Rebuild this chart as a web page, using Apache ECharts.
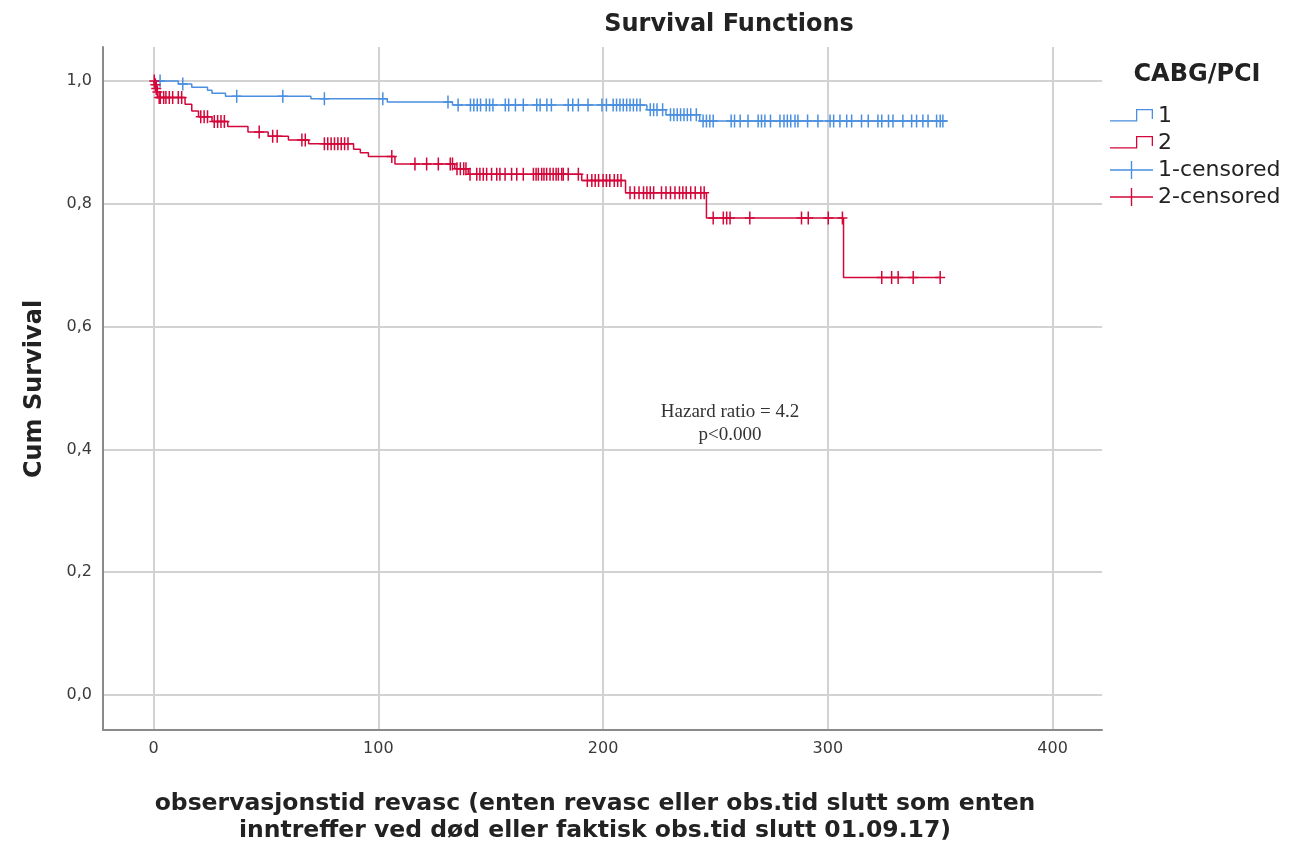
<!DOCTYPE html>
<html><head><meta charset="utf-8">
<script src="https://cdn.jsdelivr.net/npm/echarts@6/dist/echarts.min.js"></script>
<style>html,body{margin:0;padding:0;background:#fff}#c{width:1301px;height:843px}</style>
</head><body><div id="c"></div>
<script>
// ---- data ----
const xTicks = [0, 100, 200, 300, 400];
const yTicks = [0, 0.2, 0.4, 0.6, 0.8, 1.0];

const blueEventTimes = [11, 17, 24, 26, 32, 70, 104, 133, 219.5, 228, 243];
const blueEventSurv  = [0.995, 0.990, 0.985, 0.980, 0.975, 0.971, 0.966, 0.961, 0.953, 0.945, 0.935];
const blueCensorTimes = [2.9, 13, 37, 57.5, 76, 102, 131, 135.5, 141, 142.5, 144, 145.5, 148, 149.5, 151,
  156.5, 158, 161, 164.5, 170.5, 172, 175, 177, 184.5, 186.5, 189, 193.3, 199.5, 201.5, 204.5, 206,
  207.5, 209, 210.5, 212, 213.5, 215, 216.5, 221, 222.5, 224, 226.5, 230, 231.5, 233, 234.5, 236,
  237.5, 239, 241.5, 244.5, 246, 247.5, 249, 257, 258.5, 261, 264.5, 269, 270.5, 272, 274.5, 278.7,
  280.5, 282, 283.5, 285.4, 286.7, 291, 295.6, 301, 302.6, 305.4, 308.4, 310.6, 315, 318, 322.3,
  324, 327, 329, 333.4, 337.3, 339.5, 342.3, 344.6, 348.4, 350, 351.2];
const blueEndTime = 353;

const redEventTimes = [0.5, 1.0, 1.5, 2.0, 14, 17, 20, 26, 33, 42, 51, 60, 69, 89, 92, 95.6, 107.4,
  134, 140, 190.5, 210, 246, 307];
const redEventSurv  = [0.994, 0.988, 0.982, 0.973, 0.962, 0.951, 0.942, 0.934, 0.926, 0.917, 0.910,
  0.904, 0.898, 0.889, 0.883, 0.877, 0.865, 0.857, 0.848, 0.838, 0.818, 0.777, 0.680];
const redCensorTimes = [0.3, 0.8, 1.2, 1.7, 2.5, 3, 4.5, 5.5, 7, 8.5, 11, 12.5, 21, 22.5, 24, 27, 28.5,
  30, 31.5, 47, 53, 55, 66, 67.5, 76, 77.5, 79, 80.5, 82, 83.5, 85, 86.5, 106, 116.3, 121.5, 126.7,
  132, 133, 135, 136.5, 138, 139, 140.8, 143.8, 145.2, 146.7, 148.2, 150.4, 152.7, 154.1, 156.4,
  159.3, 161.6, 164.5, 169, 170.2, 171.2, 172.7, 173.7, 174.9, 176.4, 177.8, 179.1, 180.1, 181.6,
  182.3, 184.5, 189, 193, 195, 196.5, 198, 200, 201.5, 203, 205, 206.5, 208, 212, 214, 216, 218,
  219.5, 221, 222.5, 226, 228, 230, 232, 234, 235.5, 237, 239, 241, 243.5, 245, 249, 253.5, 255,
  256.5, 265.3, 288.3, 291.3, 300.2, 306.5, 324, 328.4, 331.3, 338, 350];
const redEndTime = 350;

const seriesNames = ['1', '2', '1-censored', '2-censored'];
const blueColor = '#4a8fe0';
const redColor = '#d4073a';

// ---- helpers ----
function survAt(times, surv, t) {
  let s = 1;
  for (let i = 0; i < times.length; i++) { if (times[i] <= t) s = surv[i]; }
  return s;
}
function stepData(times, surv, end) {
  const d = [[0, 1]];
  for (let i = 0; i < times.length; i++) d.push([times[i], surv[i]]);
  d.push([end, surv[surv.length - 1]]);
  return d;
}
function censorData(cTimes, times, surv) {
  return cTimes.map(t => [t, survAt(times, surv, t)]);
}

const crossSymbol = 'path://M4.25,0h1.5v13h-1.5z M0,5.75h10v1.5h-10z';
const stepIcon = 'path://M0,0h0.01v0.01h-0.01z M0,13.3H26V2H43V12H41.7V3.3H27.3V14.6H0Z M0,18h0.01v-0.01h-0.01z';
const crossIcon = 'path://M20.8,0h1.4v18h-1.4z M0,8.3h43v1.4h-43z';

const FONT = 'DejaVu Sans';
const chart = echarts.init(document.getElementById('c'), null, {renderer: 'canvas'});
chart.setOption({
  animation: false,
  backgroundColor: '#fff',
  grid: {left: 103, right: 199, top: 47, bottom: 113},
  xAxis: {
    type: 'value', min: -22.5, max: 422,
    axisLine: {show: true, onZero: false, lineStyle: {color: '#8a8a8a', width: 2}},
    axisTick: {show: false, customValues: xTicks},
    axisLabel: {customValues: xTicks, color: '#3a3a3a', fontSize: 16, fontFamily: FONT, margin: 11},
    splitLine: {show: true, lineStyle: {color: '#d2d2d2', width: 2}}
  },
  yAxis: {
    type: 'value', min: -0.057, max: 1.0554,
    axisLine: {show: true, onZero: false, lineStyle: {color: '#8a8a8a', width: 2}},
    axisTick: {show: false, customValues: yTicks},
    axisLabel: {customValues: yTicks, color: '#3a3a3a', fontSize: 16, fontFamily: FONT, margin: 11,
      formatter: v => v.toFixed(1).replace('.', ',')},
    splitLine: {show: true, lineStyle: {color: '#d2d2d2', width: 2}}
  },
  legend: {
    orient: 'vertical', left: 1105, top: 100, itemWidth: 43, itemHeight: 18, itemGap: 5,
    selectedMode: false,
    textStyle: {fontSize: 22, fontFamily: FONT, color: '#222'},
    data: [
      {name: seriesNames[0], icon: stepIcon, itemStyle: {color: blueColor, borderWidth: 0}},
      {name: seriesNames[1], icon: stepIcon, itemStyle: {color: redColor, borderWidth: 0}},
      {name: seriesNames[2], icon: crossIcon, itemStyle: {color: blueColor, borderWidth: 0}},
      {name: seriesNames[3], icon: crossIcon, itemStyle: {color: redColor, borderWidth: 0}}
    ]
  },
  series: [
    {name: seriesNames[0], type: 'line', step: 'end', showSymbol: false, symbol: 'none',
     data: stepData(blueEventTimes, blueEventSurv, blueEndTime),
     lineStyle: {color: blueColor, width: 1.5}, itemStyle: {color: blueColor}, emphasis: {disabled: true}, z: 2},
    {name: seriesNames[1], type: 'line', step: 'end', showSymbol: false, symbol: 'none',
     data: stepData(redEventTimes, redEventSurv, redEndTime),
     lineStyle: {color: redColor, width: 1.5}, itemStyle: {color: redColor}, emphasis: {disabled: true}, z: 3},
    {name: seriesNames[2], type: 'scatter', symbol: crossSymbol, symbolSize: [10, 13],
     data: censorData(blueCensorTimes, blueEventTimes, blueEventSurv),
     itemStyle: {color: blueColor, opacity: 1}, emphasis: {disabled: true}, z: 4},
    {name: seriesNames[3], type: 'scatter', symbol: crossSymbol, symbolSize: [10, 13],
     data: censorData(redCensorTimes, redEventTimes, redEventSurv),
     itemStyle: {color: redColor, opacity: 1}, emphasis: {disabled: true}, z: 5}
  ],
  graphic: [
    {type: 'text', x: 729, y: 25, style: {text: 'Survival Functions', font: 'bold 24px "DejaVu Sans"', fill: '#222', textAlign: 'center', textVerticalAlign: 'middle'}},
    {type: 'text', x: 1197, y: 75, style: {text: 'CABG/PCI', font: 'bold 24px "DejaVu Sans"', fill: '#222', textAlign: 'center', textVerticalAlign: 'middle'}},
    {type: 'text', x: 35, y: 389, rotation: Math.PI / 2, style: {text: 'Cum Survival', font: 'bold 24px "DejaVu Sans"', fill: '#222', textAlign: 'center', textVerticalAlign: 'middle'}},
    {type: 'text', x: 595, y: 817, style: {text: 'observasjonstid revasc (enten revasc eller obs.tid slutt som enten\ninntreffer ved død eller faktisk obs.tid slutt 01.09.17)', font: 'bold 23.5px "DejaVu Sans"', lineHeight: 27, fill: '#222', textAlign: 'center', textVerticalAlign: 'middle'}},
    {type: 'text', x: 730, y: 424, style: {text: 'Hazard ratio = 4.2\np<0.000', font: '19px "Liberation Serif"', lineHeight: 23, fill: '#333', textAlign: 'center', textVerticalAlign: 'middle'}}
  ]
});
</script></body></html>
